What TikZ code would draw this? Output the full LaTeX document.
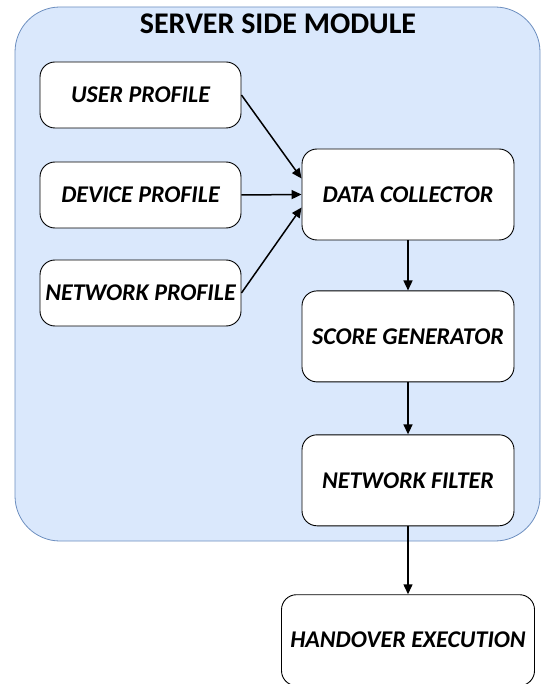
\documentclass[tikz,border=0pt]{standalone}
\usepackage{fontspec}
\setmainfont{Carlito}
\usetikzlibrary{arrows.meta, positioning}
\definecolor{modfill}{RGB}{218,232,252}
\definecolor{modline}{RGB}{108,142,191}

\begin{document}
\begin{tikzpicture}[x=1pt, y=-1pt, thick, node distance=50pt and 60pt]
        \tikzset{
            block/.style={draw, fill=white, rounded corners=15pt, align=center, inner sep=0pt, line width=0.9pt, font=\fontsize{24}{28}\selectfont\bfseries\itshape},
            profile/.style={block, minimum width=201pt, minimum height=66pt},
            stage/.style={block, minimum width=212pt, minimum height=91pt},
            module/.style={draw=modline, fill=modfill, rounded corners=45pt, line width=0.8pt},
            link/.style={-{Triangle[length=10pt, width=9pt]}, line width=1.5pt}
        }
        \useasboundingbox (0,0) rectangle (542,684);

        % --- MODULE ---
        \node[module, minimum width=525pt, minimum height=534pt] (srv) at (277.5,274) {};
        \node[font=\fontsize{30}{34}\selectfont\bfseries] (title) at (278,24) {SERVER SIDE MODULE};

        % --- PROFILES ---
        \node[profile] (user) at (140.5,95) {USER PROFILE};
        \node[profile] (device) at (140.5,195) {DEVICE PROFILE};
        \node[profile] (network) at (140.5,293) {NETWORK PROFILE};

        % --- PIPELINE ---
        \node[stage] (collector) at (408,194.5) {DATA COLLECTOR};
        \node[stage, below=50pt of collector] (score) {SCORE GENERATOR};
        \node[stage, below=52pt of score] (filter) {NETWORK FILTER};
        \node[stage, minimum width=253pt, below=68pt of filter] (handover) {HANDOVER EXECUTION};

        % Arrows profiles -> collector
        \draw[link] (user.east) -- ([yshift=16pt]collector.west);
        \draw[link] (device.east) -- (collector.west);
        \draw[link] (network.east) -- ([yshift=-13pt]collector.west);

        % Arrows down the pipeline
        \draw[link] (collector) -- (score);
        \draw[link] (score) -- (filter);
        \draw[link] (filter) -- (handover);

    \end{tikzpicture}
\end{document}
